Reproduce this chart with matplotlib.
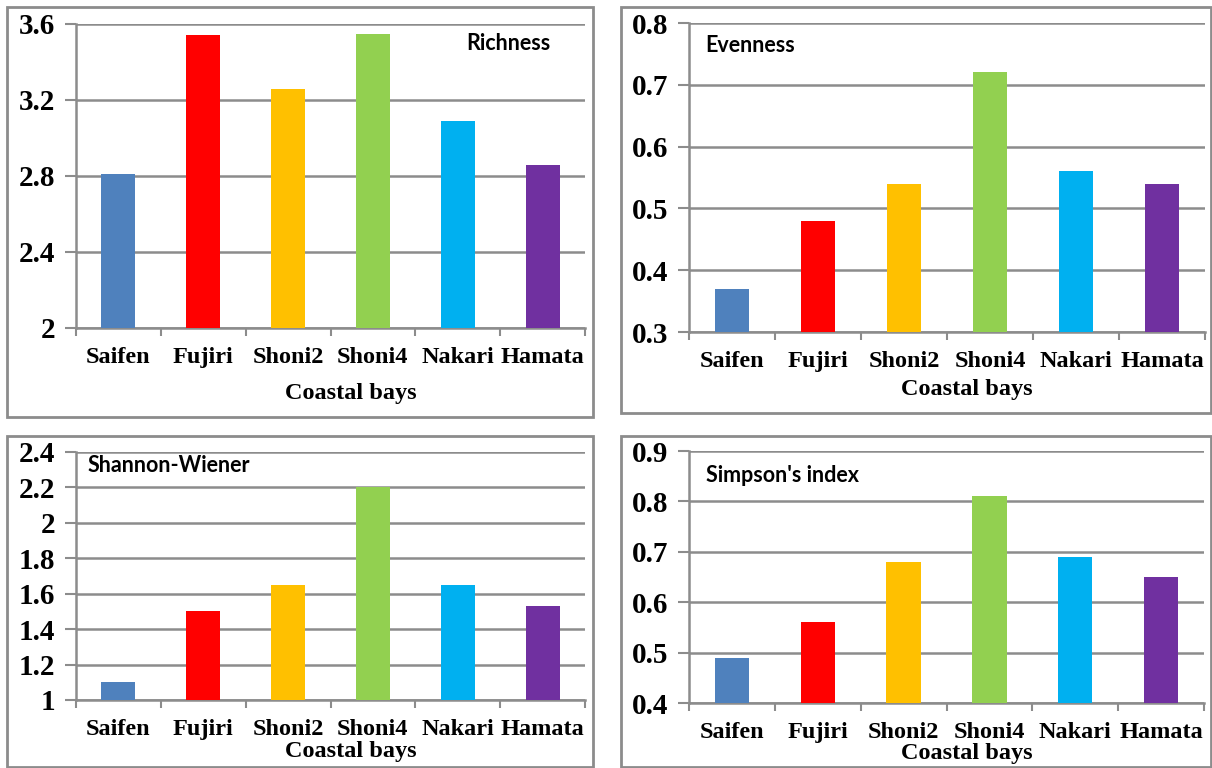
import matplotlib
matplotlib.use("Agg")
import matplotlib.pyplot as plt
from matplotlib.patches import Rectangle

# Data
bays = ["Saifen", "Fujiri", "Shoni2", "Shoni4", "Nakari", "Hamata"]
bar_colors = ["#4F81BD", "#FF0000", "#FFC000", "#92D050", "#00B0F0", "#7030A0"]

richness = [2.81, 3.54, 3.26, 3.55, 3.09, 2.86]
evenness = [0.37, 0.48, 0.54, 0.72, 0.56, 0.54]
shannon = [1.10, 1.50, 1.65, 2.20, 1.65, 1.53]
simpson = [0.49, 0.56, 0.68, 0.81, 0.69, 0.65]

richness_ticks = [2.0, 2.4, 2.8, 3.2, 3.6]
richness_labels = ["2", "2.4", "2.8", "3.2", "3.6"]
evenness_ticks = [0.3, 0.4, 0.5, 0.6, 0.7, 0.8]
evenness_labels = ["0.3", "0.4", "0.5", "0.6", "0.7", "0.8"]
shannon_ticks = [1.0, 1.2, 1.4, 1.6, 1.8, 2.0, 2.2, 2.4]
shannon_labels = ["1", "1.2", "1.4", "1.6", "1.8", "2", "2.2", "2.4"]
simpson_ticks = [0.4, 0.5, 0.6, 0.7, 0.8, 0.9]
simpson_labels = ["0.4", "0.5", "0.6", "0.7", "0.8", "0.9"]

W, H = 1212, 768
fig = plt.figure(figsize=(W / 100, H / 100), dpi=100)
fig.patch.set_facecolor("white")

GRAY = "#8C8C8C"
SERIF = "Liberation Serif"
SANS = "Lato"


def fx(px):
    return px / W


def fy(py):
    return 1 - py / H


def panel(box, axbox, values, ticks, labels, title, title_xy, xlabel_y, tick_pad):
    # outer frame of the panel
    bx0, by0, bx1, by1 = box
    fig.add_artist(Rectangle((fx(bx0), fy(by1)), fx(bx1 - bx0), (by1 - by0) / H,
                             transform=fig.transFigure, fill=False,
                             edgecolor=GRAY, linewidth=2))
    x0, x1, yt, yb = axbox
    ax = fig.add_axes([fx(x0), fy(yb), fx(x1 - x0), (yb - yt) / H])
    pos = list(range(len(bays)))
    ax.bar(pos, values, width=0.4, color=bar_colors, zorder=3)
    ax.set_xlim(-0.5, len(bays) - 0.5)
    ax.set_ylim(ticks[0], ticks[-1])
    ax.set_yticks(ticks)
    ax.set_yticklabels(labels, fontfamily=SERIF, fontweight="bold", fontsize=21)
    ax.set_xticks(pos)
    ax.set_xticklabels(bays, fontfamily=SERIF, fontweight="bold", fontsize=17.5)
    ax.set_xticks([p - 0.5 for p in pos] + [len(bays) - 0.5], minor=True)
    ax.tick_params(axis="x", which="major", length=0, pad=tick_pad)
    ax.tick_params(axis="x", which="minor", length=6, width=1.5, color=GRAY,
                   direction="out")
    ax.tick_params(axis="y", which="major", length=8, width=1.5, color=GRAY,
                   direction="out", pad=7)
    ax.yaxis.grid(True, color=GRAY, linewidth=1.8, zorder=0)
    ax.set_axisbelow(True)
    for side in ("top", "right"):
        ax.spines[side].set_visible(False)
    for side in ("left", "bottom"):
        ax.spines[side].set_color(GRAY)
        ax.spines[side].set_linewidth(1.8)
    ax.text(fx(title_xy[0]), fy(title_xy[1]), title, transform=fig.transFigure,
            fontfamily=SANS, fontweight="bold", fontsize=15.5, ha="left", va="center")
    fig.text(fx((x0 + x1) / 2 + 20), fy(xlabel_y), "Coastal bays",
             fontfamily=SERIF, fontweight="bold", fontsize=17.5,
             ha="center", va="center")
    return ax


panel((7, 7, 593, 417), (76, 585, 24, 328), richness, richness_ticks,
      richness_labels, "Richness", (466, 44), 394, 14)
panel((621, 7, 1211, 413), (689, 1205, 23, 332), evenness, evenness_ticks,
      evenness_labels, "Evenness", (705, 46), 390, 14)
panel((7, 436, 593, 767), (76, 585, 452, 700), shannon, shannon_ticks,
      shannon_labels, "Shannon-Wiener", (88, 466), 752, 14)
panel((621, 436, 1211, 767), (689, 1204, 451, 703), simpson, simpson_ticks,
      simpson_labels, "Simpson's index", (706, 475), 753, 14)

fig.savefig("out.png", dpi=100, facecolor="white")
